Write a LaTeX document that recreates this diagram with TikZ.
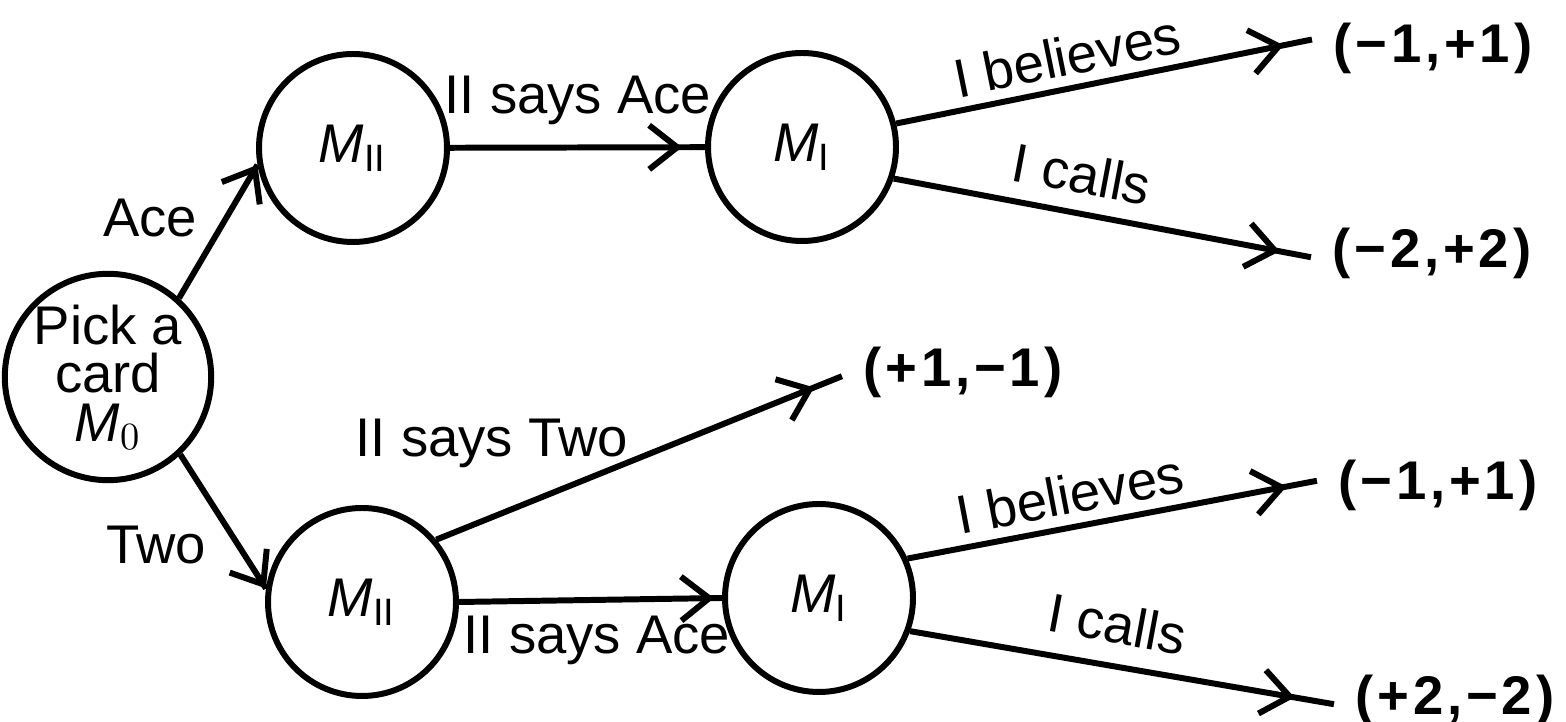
\documentclass[tikz,border=0pt]{standalone}
\usepackage{fontspec}
\setmainfont{Liberation Sans}
\newfontfamily\payofffont[LetterSpace=7]{Liberation Sans}
\usetikzlibrary{arrows.meta,decorations.markings}
\tikzset{
  state/.style={circle, draw, line width=1.7pt, minimum size=18.8mm, inner sep=0pt,
    align=center, font=\fontsize{15.5}{13.8}\selectfont},
  move/.style={inner sep=0pt, font=\fontsize{15.5}{18}\selectfont},
  payoff/.style={inner sep=6pt, font=\payofffont\bfseries\fontsize{15.5}{18}\selectfont},
  branch/.style={line width=1.7pt},
  barb/.style={
    decoration={markings,mark=at position #1 with {\arrow{Straight Barb[length=2.8mm,width=4.4mm]}}},
    postaction={decorate}},
  barb/.default=1,
  }
\newcommand{\Mtwo}{\textit{M}\textsubscript{II}}
\newcommand{\Mone}{\textit{M}\textsubscript{I}}

\begin{document}
\begin{tikzpicture}[x=0.1mm,y=-0.1mm]
  \useasboundingbox (0,0) rectangle (1566,722);

  % Chance and decision nodes
  \node[state] (M0)   at (108,377) {Pick a\\card\\\textit{M}$_0$};
  \node[state] (MIIa) at (353,148) {\Mtwo};
  \node[state] (MIa)  at (802,147) {\Mone};
  \node[state] (MIIb) at (362,602) {\Mtwo};
  \node[state] (MIb)  at (819,598) {\Mone};

  % Payoffs
  \node[payoff] (pa) at (1433,48)  {(−1,+1)};
  \node[payoff] (pb) at (1432,253) {(−2,+2)};
  \node[payoff] (pc) at (963,372)  {(+1,−1)};
  \node[payoff] (pd) at (1438,485) {(−1,+1)};
  \node[payoff] (pe) at (1455,700) {(+2,−2)};

  % Branches
  \draw[branch, barb] (M0.48) -- (MIIa.190);
  \draw[branch, barb] (M0.-47) -- (MIIb.172);
  \draw[branch, barb=-2.3mm] (MIIa) -- (MIa);
  \draw[branch, barb=-0.8mm] (MIIb.east) -- (MIb.west);
  \draw[branch, barb=-2.9mm] (MIa.14) -- (pa.176);
  \draw[branch, barb=-3.2mm] (MIa.-19) -- (pb.182);
  \draw[branch, barb=-3mm] (MIIb.40) -- (pc.182);
  \draw[branch, barb=-3.1mm] (MIb.24) -- (pd.178);
  \draw[branch, barb=-4mm] (MIb.-20) -- (pe.182);

  % Labels
  \node[move] (ace)   at (150,218) {Ace};
  \node[move] (two)   at (156,545) {Two};
  \node[move] (saysA) at (578,100) {II says Ace};
  \node[move] (saysT) at (492,443) {II says Two};
  \node[move] (saysB) at (597,640) {II says Ace};
  \node[move, rotate=11.5]  (believesA) at (1067,56)  {I believes};
  \node[move, rotate=-10.7] (callsA)    at (1082,174) {I calls};
  \node[move, rotate=10.8]  (believesB) at (1070,494) {I believes};
  \node[move, rotate=-10.5] (callsB)    at (1117,624) {I calls};
\end{tikzpicture}
\end{document}
